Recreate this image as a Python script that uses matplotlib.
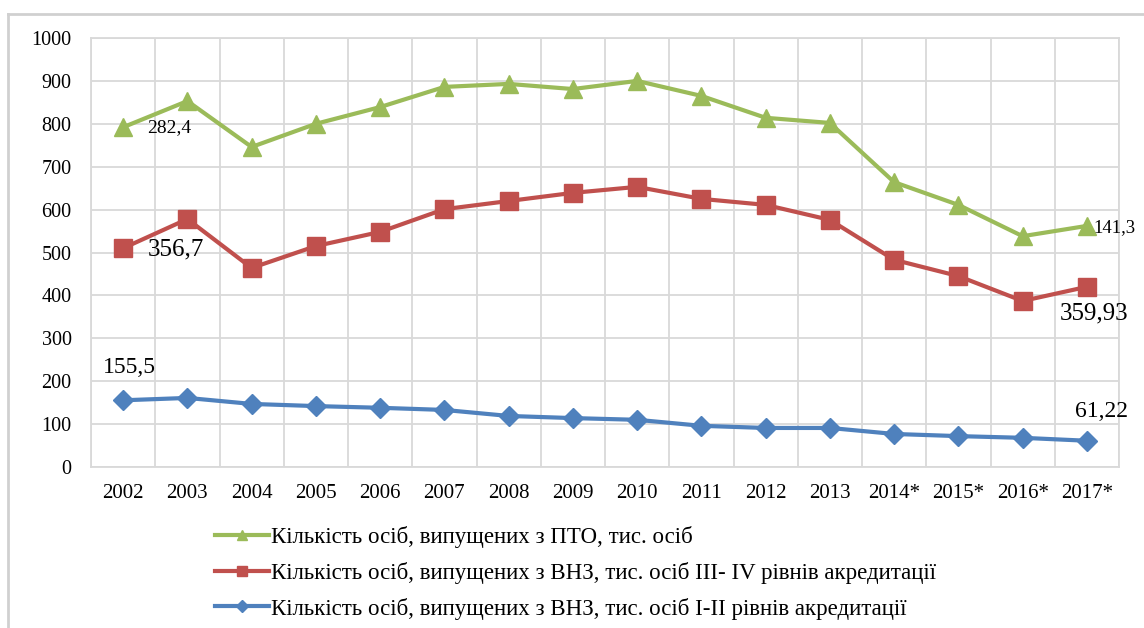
import numpy as np
import matplotlib.pyplot as plt
from matplotlib.lines import Line2D

years = ['2002', '2003', '2004', '2005', '2006', '2007', '2008', '2009',
         '2010', '2011', '2012', '2013', '2014*', '2015*', '2016*', '2017*']
pto = [792, 853, 746, 800, 839, 886, 893, 881, 900, 865, 814, 802, 664, 611, 538, 562]
vnz34 = [510, 578, 464, 515, 548, 601, 620, 639, 653, 625, 611, 576, 483, 445, 387, 420]
vnz12 = [155.5, 161, 147, 142, 138, 133, 119, 114, 110, 96, 91, 91, 77, 72, 68, 61.22]

lab_pto = 'Кількість осіб, випущених з ПТО, тис. осіб'
lab_34 = 'Кількість осіб, випущених з ВНЗ, тис. осіб III- IV рівнів акредитації'
lab_12 = 'Кількість осіб, випущених з ВНЗ, тис. осіб I-II рівнів акредитації'

plt.rcParams['font.family'] = ['Liberation Serif', 'DejaVu Serif']

fig = plt.figure(figsize=(11.44, 6.28), dpi=100)
ax = fig.add_axes([91/1144, 1-467/628, (1119-91)/1144, (467-38)/628])

x = np.arange(len(years))
green, red, blue = '#9BBB59', '#C0504D', '#4F81BD'
ax.plot(x, pto, color=green, lw=3, marker='^', ms=13, label=lab_pto, zorder=3)
ax.plot(x, vnz34, color=red, lw=3, marker='s', ms=13, label=lab_34, zorder=3)
ax.plot(x, vnz12, color=blue, lw=3, marker='D', ms=10, label=lab_12, zorder=3)

ax.set_xlim(-0.5, len(years) - 0.5)
ax.set_ylim(0, 1000)
ax.set_yticks(np.arange(0, 1001, 100))
ax.set_xticks(x)
ax.set_xticklabels(years)
ax.set_xticks(np.arange(-0.5, len(years), 1), minor=True)
ax.grid(True, which='minor', axis='x', color='#D9D9D9', lw=1.3)
ax.grid(True, which='major', axis='y', color='#D9D9D9', lw=1.3)
ax.tick_params(which='both', length=0)
ax.tick_params(axis='y', pad=14, labelsize=14.5)
ax.tick_params(axis='x', pad=12, labelsize=15)
for s in ax.spines.values():
    s.set_color('#D9D9D9')
    s.set_linewidth(1.3)

# data labels
ax.text(0.37, 792, '282,4', fontsize=14, ha='left', va='center')
ax.text(0.39, 506, '356,7', fontsize=18, ha='left', va='center')
ax.text(-0.31, 231, '155,5', fontsize=17, ha='left', va='center')
ax.text(15.1, 557, '141,3', fontsize=13.5, ha='left', va='center')
ax.text(14.58, 359, '359,93', fontsize=18, ha='left', va='center')
ax.text(14.82, 130, '61,22', fontsize=17, ha='left', va='center')

fig.legend(loc='upper left', bbox_to_anchor=(215/1144, 1-526/628), frameon=False,
           fontsize=16.5, handlelength=2.35, labelspacing=0.6, handletextpad=0.1,
           borderaxespad=0, borderpad=0, markerscale=0.6)

# outer chart frame (top and left edges visible)
fig.add_artist(Line2D([8/1144, 1], [1-14/628, 1-14/628], transform=fig.transFigure,
                      color='#D0D0D0', lw=2))
fig.add_artist(Line2D([8/1144, 8/1144], [0, 1-14/628], transform=fig.transFigure,
                      color='#D0D0D0', lw=2))

fig.savefig('out.png', dpi=100)
